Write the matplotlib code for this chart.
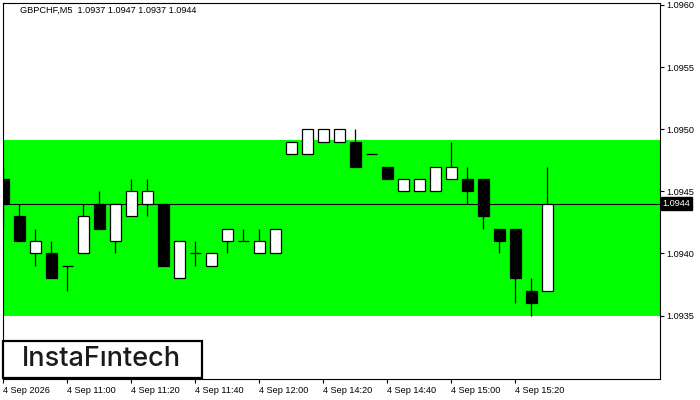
import numpy as np
import matplotlib.pyplot as plt
from matplotlib.patches import Rectangle
from matplotlib.transforms import blended_transform_factory

plt.rcParams['font.family'] = ['Liberation Sans', 'DejaVu Sans']

# M5 candles
opens = [1.0946, 1.0943, 1.0940, 1.0940, 1.0939, 1.0940, 1.0944, 1.0941, 1.0943, 1.0944,
         1.0944, 1.0938, 1.0940, 1.0939, 1.0941, 1.0941, 1.0940, 1.0940, 1.0948, 1.0948,
         1.0949, 1.0949, 1.0949, 1.0948, 1.0947, 1.0945, 1.0945, 1.0945, 1.0946, 1.0946,
         1.0946, 1.0942, 1.0942, 1.0937, 1.0937]
highs = [1.0947, 1.0944, 1.0942, 1.0941, 1.0939, 1.0944, 1.0945, 1.0944, 1.0946, 1.0946,
         1.0944, 1.0941, 1.0941, 1.0940, 1.0942, 1.0942, 1.0942, 1.0942, 1.0949, 1.0950,
         1.0950, 1.0950, 1.0950, 1.0948, 1.0947, 1.0946, 1.0946, 1.0947, 1.0949, 1.0947,
         1.0946, 1.0942, 1.0942, 1.0938, 1.0947]
lows = [1.0942, 1.0941, 1.0939, 1.0938, 1.0937, 1.0940, 1.0942, 1.0940, 1.0943, 1.0943,
        1.0939, 1.0938, 1.0939, 1.0939, 1.0940, 1.0941, 1.0940, 1.0940, 1.0948, 1.0948,
        1.0949, 1.0949, 1.0947, 1.0948, 1.0946, 1.0945, 1.0945, 1.0945, 1.0946, 1.0944,
        1.0942, 1.0940, 1.0936, 1.0935, 1.0937]
closes = [1.0944, 1.0941, 1.0941, 1.0938, 1.0939, 1.0943, 1.0942, 1.0944, 1.0945, 1.0945,
          1.0939, 1.0941, 1.0940, 1.0940, 1.0942, 1.0941, 1.0941, 1.0942, 1.0949, 1.0950,
          1.0950, 1.0950, 1.0947, 1.0948, 1.0946, 1.0946, 1.0946, 1.0947, 1.0947, 1.0945,
          1.0943, 1.0941, 1.0938, 1.0936, 1.0944]

zone_low, zone_high = 1.0935, 1.09491
last_price = 1.0944

tick_idx = [0, 4, 8, 12, 16, 20, 24, 28, 32]
tick_labels = ['4 Sep 2026', '4 Sep 11:00', '4 Sep 11:20', '4 Sep 11:40', '4 Sep 12:00',
               '4 Sep 14:20', '4 Sep 14:40', '4 Sep 15:00', '4 Sep 15:20']
y_ticks = [1.0935, 1.0940, 1.0945, 1.0950, 1.0955, 1.0960]

fig = plt.figure(figsize=(7, 4), dpi=100)
ax = fig.add_axes([2.5 / 700, 21 / 400, 657 / 700, 376.5 / 400])
ax.set_xlim(-0.053, 41.0)
ax.set_ylim(1.09299, 1.09602)

# green zone
ax.axhspan(zone_low, zone_high, color='#00ff00', lw=0, zorder=0)
ax.axhline(last_price, color='black', lw=0.8, zorder=1)

o = np.array(opens)
c = np.array(closes)
x = np.arange(len(o))
w = 0.67
ax.vlines(x, lows, highs, color='black', lw=0.9, zorder=2)
for xi, oi, ci in zip(x, o, c):
    if abs(ci - oi) < 1e-9:
        ax.hlines(oi, xi - w / 2, xi + w / 2, color='black', lw=0.9, zorder=3)
    else:
        fc = 'white' if ci > oi else 'black'
        ax.add_patch(Rectangle((xi - w / 2, min(oi, ci)), w, abs(ci - oi),
                               facecolor=fc, edgecolor='black', lw=0.9, zorder=3))

for s in ax.spines.values():
    s.set_color('black')
    s.set_linewidth(0.8)

ax.yaxis.tick_right()
ax.set_yticks(y_ticks)
ax.set_yticklabels([f'{v:.4f}' for v in y_ticks])
ax.tick_params(axis='y', direction='out', length=3, width=0.8, pad=2, labelsize=6.6)
ax.set_xticks(tick_idx)
ax.set_xticklabels(tick_labels, ha='left')
ax.tick_params(axis='x', direction='out', length=3, width=0.8, pad=2, labelsize=6.6)

# last price tag
tr = blended_transform_factory(ax.transAxes, ax.transData)
ax.text(1.005, last_price, f'{last_price:.4f}', transform=tr, ha='left', va='center',
        color='white', fontsize=6.6, zorder=5, clip_on=False,
        bbox=dict(boxstyle='square,pad=0.2', fc='black', ec='black'))

ax.text(18 / 657, 0.978, 'GBPCHF,M5  1.0937 1.0947 1.0937 1.0944', transform=ax.transAxes,
        ha='left', va='center', fontsize=6.6, color='black')

# logo box
fig.patches.append(Rectangle((3 / 700, 22 / 400), 198.5 / 700, 37.5 / 400,
                             transform=fig.transFigure, fc='white', ec='black', lw=1.6,
                             zorder=10))
fig.text(101 / 700, 41 / 400, 'InstaF\u0131ntech', ha='center', va='center',
         fontsize=19.5, fontweight='medium', family=['Inter', 'DejaVu Sans'],
         color='#1a1a1a', zorder=11)

fig.savefig('out.png', dpi=100)
